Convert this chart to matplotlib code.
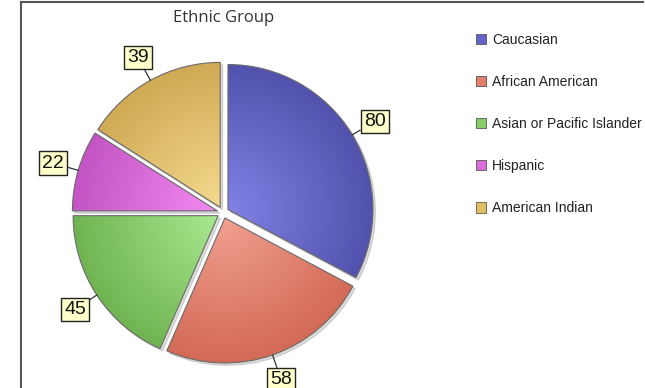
import numpy as np
import matplotlib
matplotlib.use("Agg")
import matplotlib.pyplot as plt
from matplotlib.lines import Line2D
from matplotlib.patches import Patch

# data
groups = ["Caucasian", "African American", "Asian or Pacific Islander",
          "Hispanic", "American Indian"]
counts = [80, 58, 45, 22, 39]
base_colors = ["#6464c8", "#e47f6b", "#88cc68", "#dc6cdc", "#e6c066"]
light_colors = ["#8282e6", "#f2a090", "#a8e890", "#f28af2", "#f5da90"]
dark_colors = ["#5252ae", "#d26a56", "#70b452", "#c454c4", "#d0aa54"]

title = "Ethnic Group"
explode_amt = 0.04

fig = plt.figure(figsize=(6.45, 3.88), dpi=100)
ax = fig.add_axes([0, 0, 1, 1])

wedges, _ = ax.pie(counts, colors=base_colors, startangle=90, counterclock=False,
                   explode=[explode_amt] * len(counts), radius=1.0,
                   wedgeprops=dict(edgecolor="#6a6a6a", linewidth=0.8),
                   shadow=dict(ox=0.012, oy=-0.012, shade=0.9, alpha=0.15))

# pie() resets the limits, so set them afterwards
xlim = (-223 / 145, 422 / 145)
ylim = (-175.5 / 145, 212.5 / 145)
ax.set_xlim(*xlim)
ax.set_ylim(*ylim)
ax.set_aspect("equal", adjustable="datalim")
ax.axis("off")

# radial gradient inside every wedge (light centre, darker rim)
for w, lc, dc in zip(wedges, light_colors, dark_colors):
    cx, cy = w.center
    r = w.r
    n = 200
    xs = np.linspace(-1, 1, n)
    xx, yy = np.meshgrid(xs, xs)
    d = np.clip(np.sqrt(xx ** 2 + yy ** 2), 0, 1)[..., None]
    c1 = np.array(matplotlib.colors.to_rgb(lc))
    c2 = np.array(matplotlib.colors.to_rgb(dc))
    img = c1 * (1 - d) + c2 * d
    im = ax.imshow(img, extent=[cx - r, cx + r, cy - r, cy + r], origin="lower",
                   zorder=w.get_zorder() + 0.1, interpolation="bilinear")
    im.set_clip_path(w)
    w.set_zorder(w.get_zorder() + 0.2)
    w.set_facecolor("none")

# imshow changes the limits again
ax.set_xlim(*xlim)
ax.set_ylim(*ylim)

# value labels
for w, val in zip(wedges, counts):
    ang = np.deg2rad((w.theta1 + w.theta2) / 2)
    cx, cy = w.center
    rim = (cx + np.cos(ang), cy + np.sin(ang))
    txt = (1.22 * np.cos(ang), 1.22 * np.sin(ang))
    ax.annotate(str(val), xy=rim, xytext=txt, ha="center", va="center",
                fontsize=14, family="Liberation Sans", color="#111111",
                bbox=dict(boxstyle="square,pad=0.16", fc="#ffffcc",
                          ec="#222222", lw=1.0),
                arrowprops=dict(arrowstyle="-", color="#333333", lw=0.9,
                                shrinkA=0, shrinkB=0),
                zorder=5)

fig.text(224 / 645, 1 - 18 / 388, title, ha="center", va="center",
         fontsize=12, family="Open Sans", color="#333333")

handles = [Patch(facecolor=c, edgecolor="#555555", linewidth=0.6) for c in base_colors]
leg = fig.legend(handles, groups, loc="upper left",
                 bbox_to_anchor=(470 / 645, 1 - 27 / 388), frameon=False,
                 prop=dict(family="Liberation Sans", size=10),
                 handlelength=0.75, handleheight=0.75, handletextpad=0.45,
                 labelspacing=2.03, borderaxespad=0)
for t in leg.get_texts():
    t.set_color("#222222")

# frame lines (left and top)
fig.add_artist(Line2D([21 / 645, 21 / 645], [0, 1 - 2 / 388], color="#555555", lw=1.5))
fig.add_artist(Line2D([21 / 645, 643 / 645], [1 - 2 / 388, 1 - 2 / 388], color="#555555", lw=1.5))

fig.savefig("out.png", dpi=100)
